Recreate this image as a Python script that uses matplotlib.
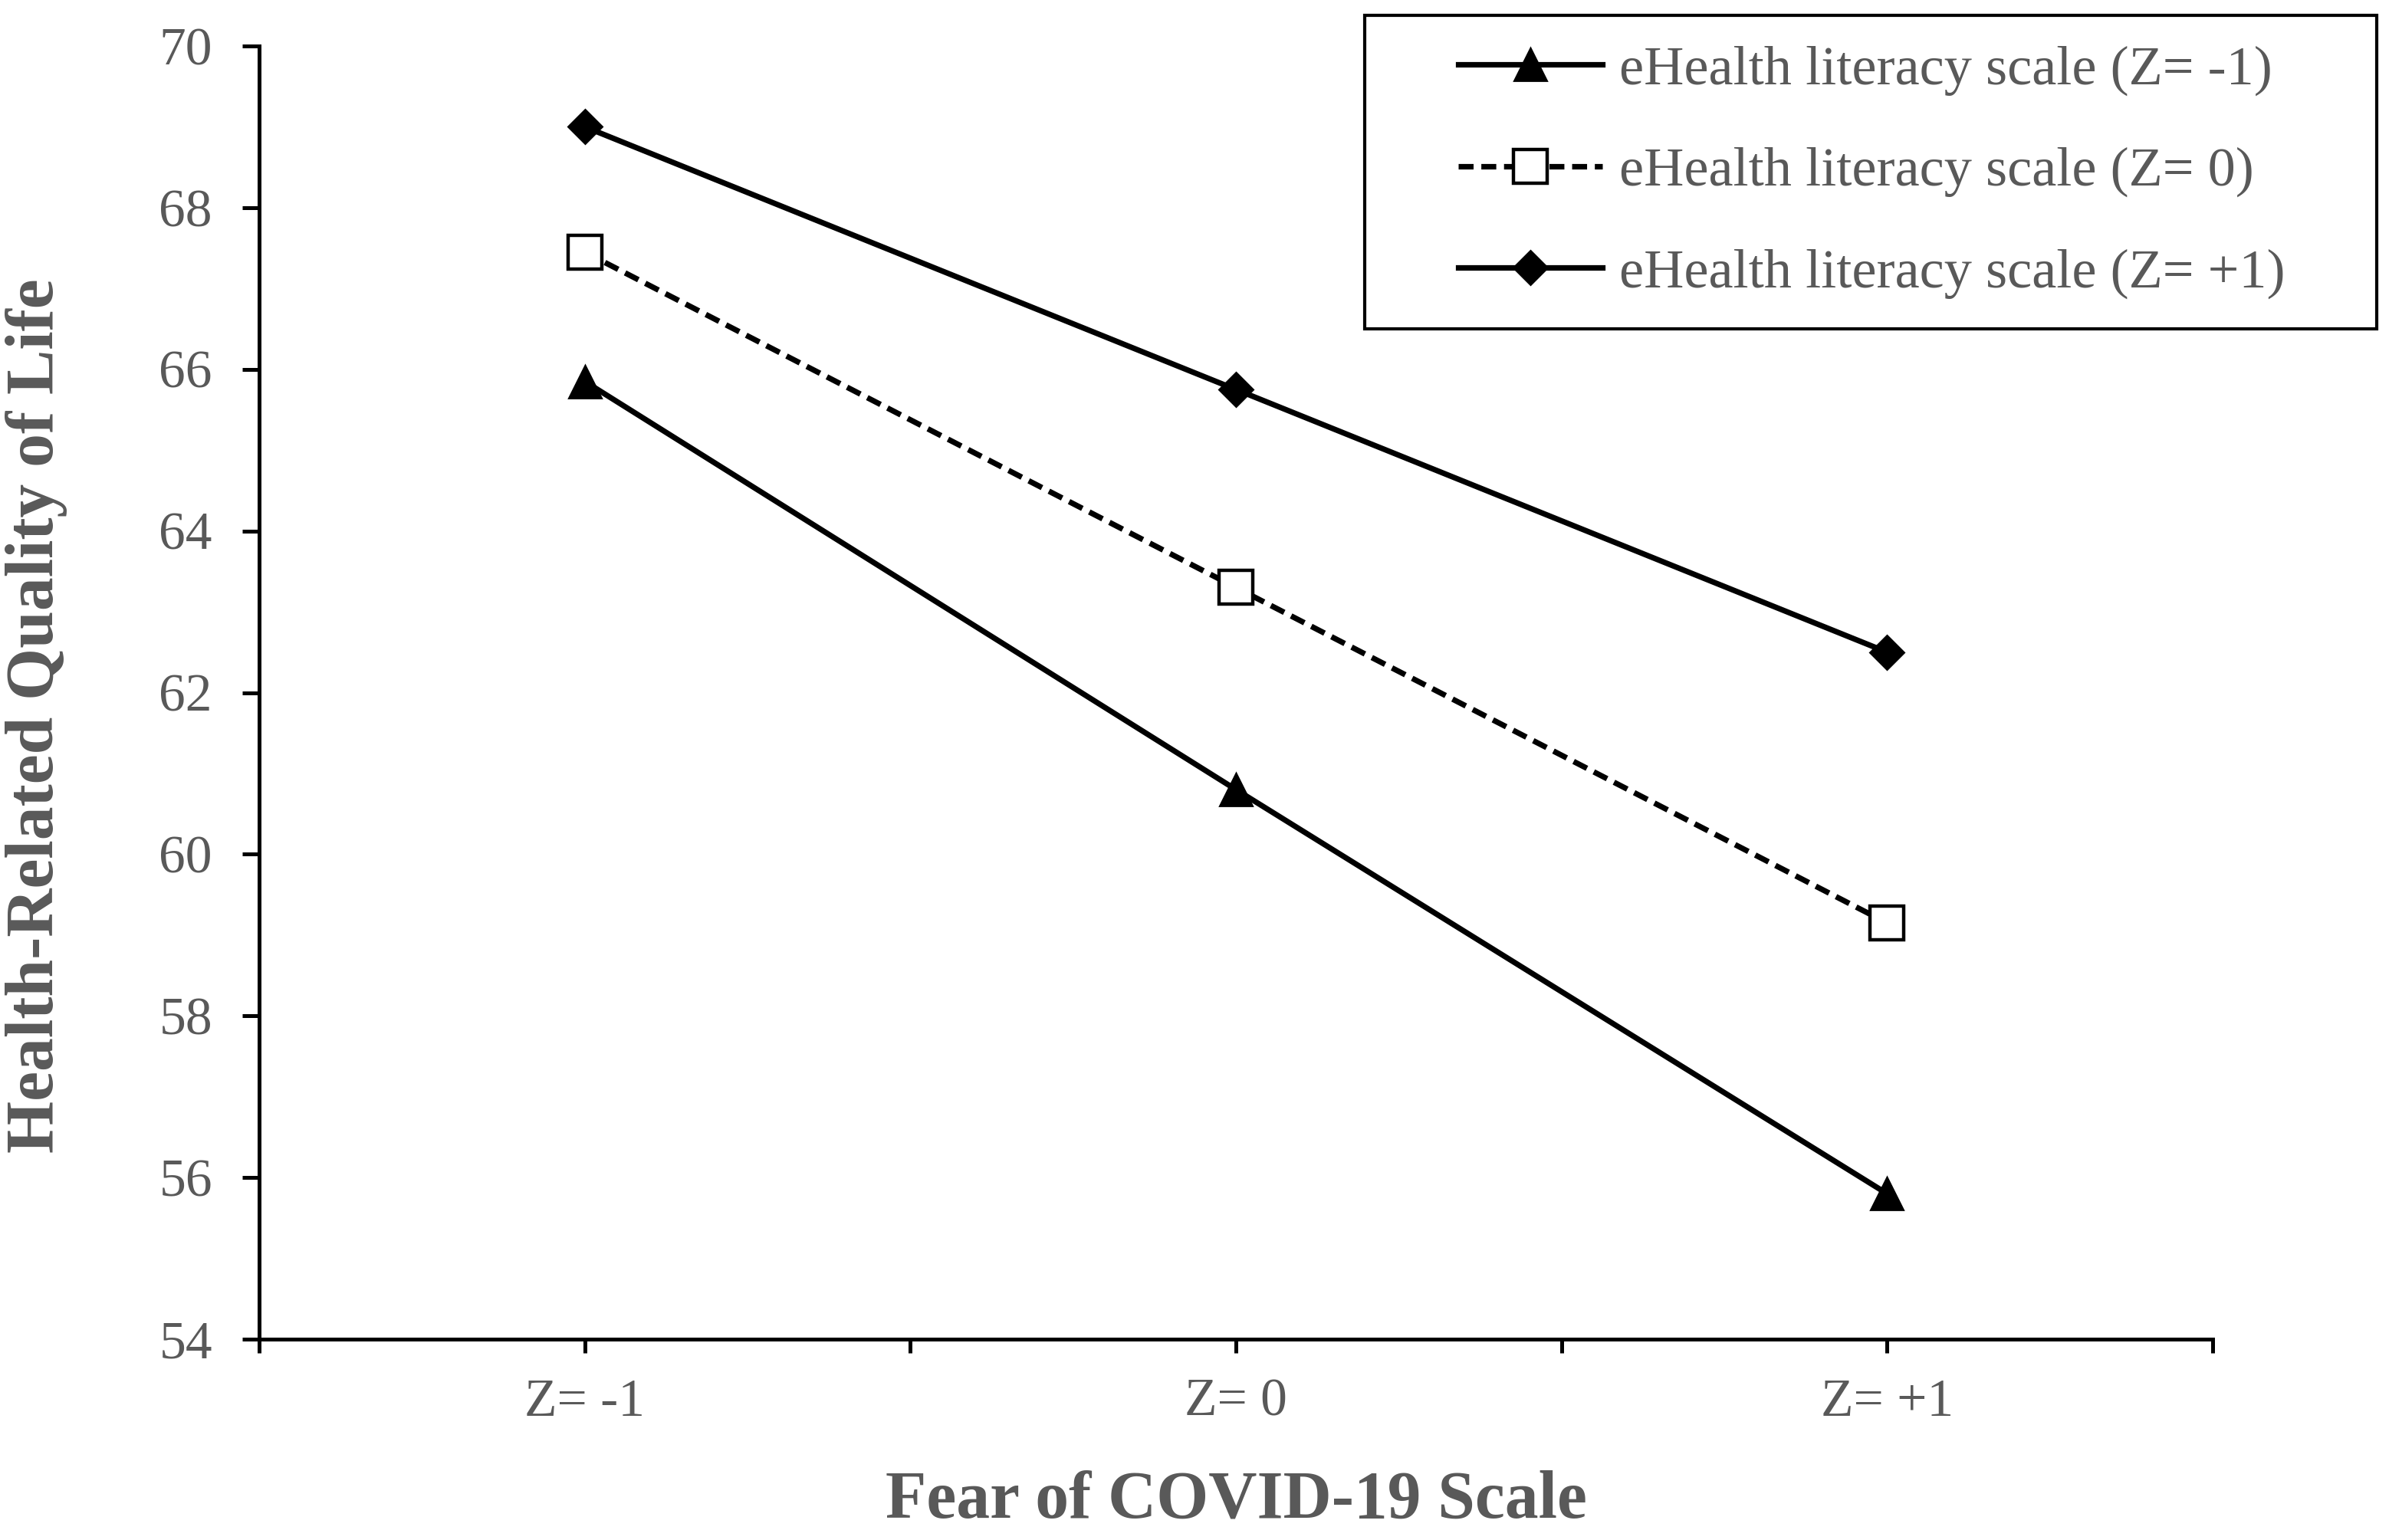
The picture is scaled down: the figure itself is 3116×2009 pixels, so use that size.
import numpy as np
import matplotlib
matplotlib.use("Agg")
import matplotlib.pyplot as plt
from matplotlib.lines import Line2D
from matplotlib.legend_handler import HandlerLine2D

# Valores
categorias = ["Z= -1", "Z= 0", "Z= +1"]
ehl_baixo = [65.85, 60.8, 55.8]     # eHealth (Z= -1)
ehl_medio = [67.45, 63.3, 59.15]    # eHealth (Z= 0)
ehl_alto = [69.0, 65.75, 62.5]      # eHealth (Z= +1)
rotulos = ["eHealth literacy scale (Z= -1)",
           "eHealth literacy scale (Z= 0)",
           "eHealth literacy scale (Z= +1)"]
y_ticks = [54, 56, 58, 60, 62, 64, 66, 68, 70]

cinza = "#595959"
plt.rcParams["font.family"] = ["Liberation Serif", "DejaVu Serif"]

fig = plt.figure(figsize=(15.58, 10.045), dpi=200)
ax = fig.add_axes([338 / 3116, 1 - 1747 / 2009, (2886 - 338) / 3116, (1747 - 60) / 2009])

x = np.arange(len(categorias))
ax.plot(x, ehl_baixo, color="black", lw=2.6, marker="^", markersize=15,
        label=rotulos[0], clip_on=False)
ax.plot(x, ehl_medio, color="black", lw=2.6, ls=(0, (2.7, 1.4)), marker="s",
        markersize=15.5, markerfacecolor="white", markeredgecolor="black",
        markeredgewidth=1.6, label=rotulos[1], clip_on=False)
ax.plot(x, ehl_alto, color="black", lw=2.6, marker="D", markersize=11,
        label=rotulos[2], clip_on=False)

ax.set_xlim(-0.5, 2.5)
ax.set_ylim(54, 70)
ax.set_xticks(x)
ax.set_xticklabels(categorias)
ax.set_xticks([-0.5, 0.5, 1.5, 2.5], minor=True)
ax.set_yticks(y_ticks)

for s in ["top", "right"]:
    ax.spines[s].set_visible(False)
for s in ["left", "bottom"]:
    ax.spines[s].set_linewidth(1.8)

ax.tick_params(axis="y", direction="out", length=8, width=1.8, pad=14,
               labelsize=25, labelcolor=cinza)
ax.tick_params(axis="x", which="both", direction="out", length=6.5, width=1.8,
               pad=12, labelsize=25, labelcolor=cinza)

ax.set_xlabel("Fear of COVID-19 Scale", fontsize=31.5, fontweight="bold",
              color=cinza, labelpad=20)
ax.set_ylabel("Health-Related Quality of Life", fontsize=31.5, fontweight="bold",
              color=cinza)
ax.yaxis.set_label_coords(-0.098, 0.482)

leg = ax.legend(loc="upper left",
                bbox_to_anchor=(1780 / 3116, 1 - 20 / 2009 - 0.01, (3100 - 1780) / 3116, 0.01),
                bbox_transform=fig.transFigure, mode="expand",
                handler_map={Line2D: HandlerLine2D(xpad=1.15)},
                fontsize=26, frameon=True, fancybox=False, framealpha=1,
                edgecolor="black", handlelength=2.6 + 1.15, handletextpad=0.3,
                labelspacing=0.92, borderpad=0.54, borderaxespad=0)
leg.get_frame().set_linewidth(1.5)
for t in leg.get_texts():
    t.set_color(cinza)

fig.savefig("out.png", dpi=200)
